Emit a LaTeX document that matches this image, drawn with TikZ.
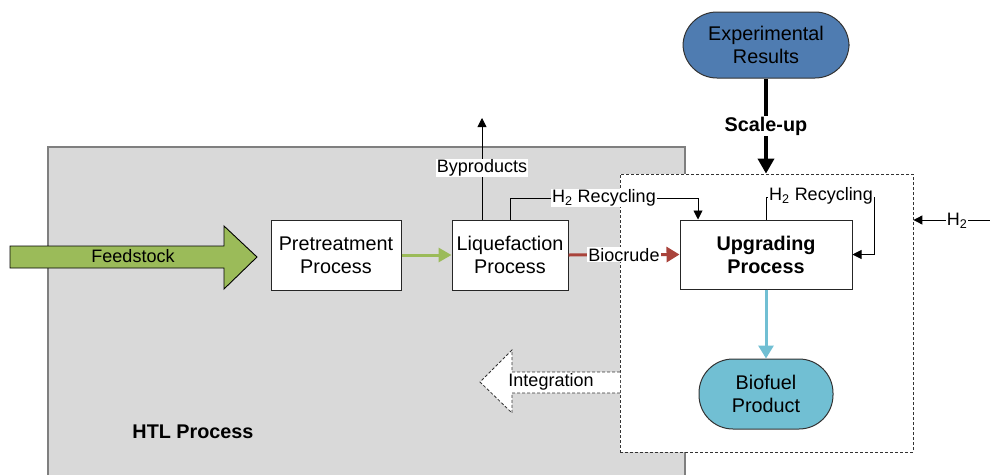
\documentclass[tikz,border=0pt]{standalone}
\usepackage{fontspec}
\setmainfont{Liberation Sans}
\usetikzlibrary{arrows.meta}
\definecolor{feedgreen}{HTML}{9BBB59}
\definecolor{crudered}{HTML}{A9433B}
\definecolor{expblue}{HTML}{4F7CB1}
\definecolor{fuelcyan}{HTML}{71BFD3}
\definecolor{htlgrey}{HTML}{D9D9D9}
\definecolor{edgegrey}{HTML}{7F7F7F}
\begin{document}
\begin{tikzpicture}[x=1pt,y=-1pt,
  every node/.style={font=\fontsize{18}{23}\selectfont, align=center, inner sep=1pt},
  big/.style={font=\fontsize{19.8}{23}\selectfont},
  bigbold/.style={font=\fontsize{19.8}{23}\selectfont\bfseries},
  procbox/.style={draw=black!85, fill=white, line width=1pt, big},
  pill/.style={draw=black!80, line width=1pt, rounded corners=34pt, big},
  tag/.style={fill=white, inner sep=1pt},
  thin/.style={draw=black, line width=0.9pt},
  thintip/.style={-{Triangle[length=9pt,width=9pt]}},
  flow/.style={line width=3pt, -{Triangle[length=13pt,width=15pt]}},
  zoneline/.style={dash pattern=on 3pt off 2pt, line width=0.8pt}
]
\useasboundingbox (0,0) rectangle (990,474);

% HTL process area
\node[draw=edgegrey, fill=htlgrey, line width=1.3pt, minimum width=637, minimum height=333, inner sep=0pt]
  (htl) at (366.5,313.5) {};
\node[bigbold] (htllabel) at (193,432) {HTL Process};

% upgrading area
\node[draw=black!80, zoneline, fill=white, minimum width=293, minimum height=278, inner sep=0pt]
  (zone) at (766.5,313) {};

% feedstock arrow
\draw[fill=feedgreen, draw=black, line width=0.9pt]
  (10,246) -- (224,246) -- (224,226) -- (257,257) -- (224,289) -- (224,268) -- (10,268) -- cycle;
\node (feed) at (133,256) {Feedstock};

% integration arrow
\draw[fill=white, draw=black!80, zoneline]
  (620,372) -- (512,372) -- (512,350) -- (480,382) -- (512,413) -- (512,393) -- (620,393);
\node (integ) at (551,382) {Integration};

% process boxes
\node[procbox, minimum width=130, minimum height=70] (pre) at (336,255) {Pretreatment\\Process};
\node[procbox, minimum width=116, minimum height=70] (liq) at (510,255) {Liquefaction\\Process};
\node[procbox, minimum width=172, minimum height=69, bigbold]
  (upg) at (766,254.5) {Upgrading\\Process};

% terminals
\node[pill, fill=expblue, minimum width=166, minimum height=66] (exp) at (766,45) {Experimental\\Results};
\node[pill, fill=fuelcyan, minimum width=134, minimum height=70] (bio) at (766,394) {Biofuel\\Product};

% main flows
\draw[flow, draw=feedgreen, -{Triangle[length=13pt,width=14pt]}, feedgreen] (pre.east) -- (liq.west);
\draw[flow, draw=crudered, crudered] (liq.east) -- (upg.west)
  node[midway, tag, text=black] (crude) {Biocrude};
\draw[flow, draw=fuelcyan, fuelcyan] (upg.south) -- (bio.north);
\draw[line width=3.5pt, -{Triangle[length=15pt,width=16pt]}] (exp.south) -- (exp.south |- zone.north)
  node[pos=0.5, tag, bigbold] (scale) {Scale-up};

% byproducts
\coordinate (byp) at (482,118);
\draw[thin, thintip] (byp |- liq.north) -- (byp);
\node[tag] (byplabel) at (482,168) {Byproducts};

% hydrogen recycling around liquefaction
\coordinate (r1) at (698,198);
\draw[thin, thintip] (liq.north) |- (r1) -- (r1 |- upg.north);
\node[tag] (rec1) at (604,198) {H\textsubscript{2} Recycling};

% hydrogen recycling around upgrading
\coordinate (r2) at (874,197);
\draw[thin, thintip] (upg.north) -- (upg.north |- r2) -- (r2) -- (r2 |- upg.east) -- (upg.east);
\node[tag] (rec2) at (821,196) {H\textsubscript{2} Recycling};

% hydrogen feed
\coordinate (h2in) at (990,220);
\draw[thin, thintip] (h2in) -- (h2in -| zone.east);
\node[tag] (h2) at (957,221) {H\textsubscript{2}};
\end{tikzpicture}
\end{document}
